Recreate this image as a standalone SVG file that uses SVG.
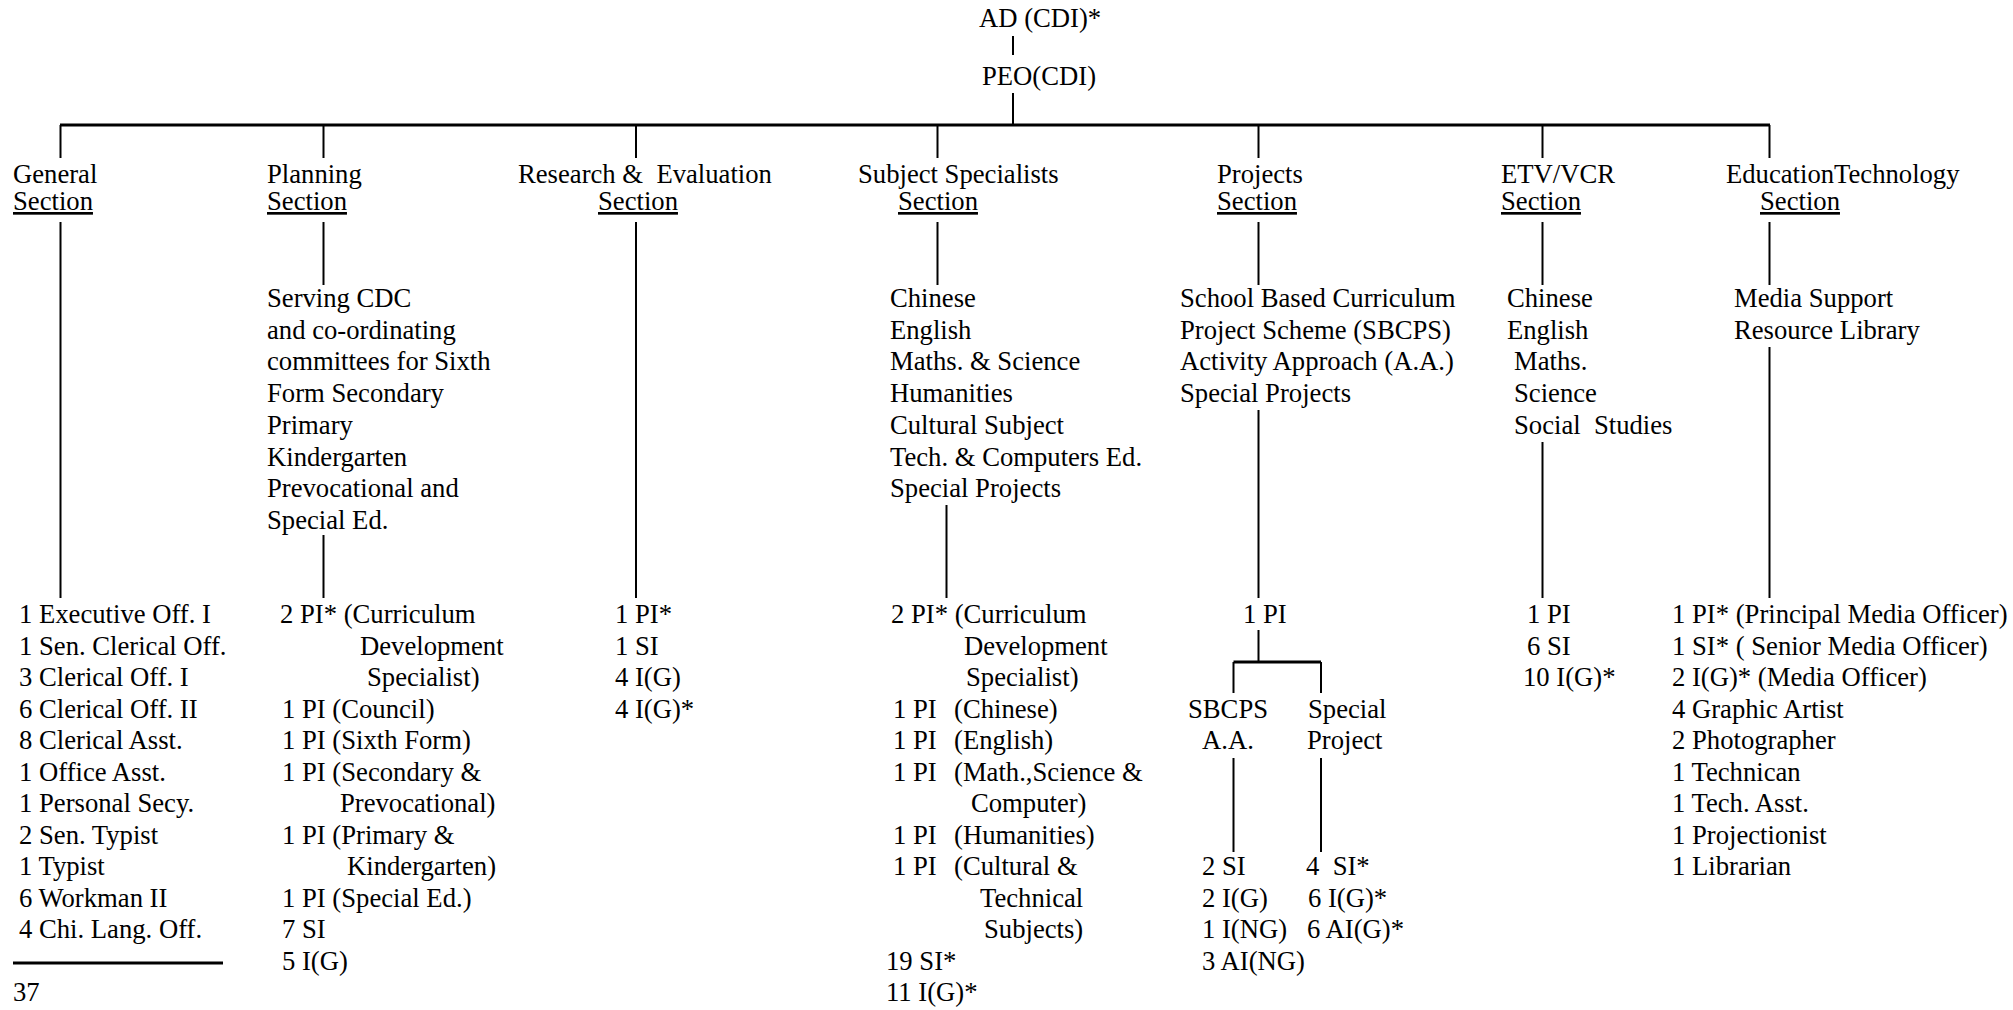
<svg xmlns="http://www.w3.org/2000/svg" width="2013" height="1010" viewBox="0 0 2013 1010">
<style>
text{font-family:"Liberation Serif","Times New Roman",serif;font-size:26.67px;fill:#000;white-space:pre}
.u{text-decoration:underline}
.c line{stroke:#000;stroke-width:2;fill:none}
.c .t{stroke-width:3}
</style>
<rect width="2013" height="1010" fill="#fff"/>
<g id="connectors" class="c">
<line x1="1013" y1="36" x2="1013" y2="55"/>
<line x1="1013" y1="93" x2="1013" y2="125"/>
<line class="t" x1="60" y1="125" x2="1770" y2="125"/>
<line x1="60.5" y1="125" x2="60.5" y2="158"/>
<line x1="323.5" y1="125" x2="323.5" y2="158"/>
<line x1="636" y1="125" x2="636" y2="158"/>
<line x1="937.5" y1="125" x2="937.5" y2="158"/>
<line x1="1258.5" y1="125" x2="1258.5" y2="158"/>
<line x1="1542.5" y1="125" x2="1542.5" y2="158"/>
<line x1="1769.5" y1="125" x2="1769.5" y2="158"/>
<line x1="60.5" y1="222" x2="60.5" y2="598"/>
<line x1="323.5" y1="222" x2="323.5" y2="285"/>
<line x1="323.5" y1="535" x2="323.5" y2="598"/>
<line x1="636" y1="222" x2="636" y2="598"/>
<line x1="937.5" y1="222" x2="937.5" y2="285"/>
<line x1="946.5" y1="505" x2="946.5" y2="598"/>
<line x1="1258.5" y1="222" x2="1258.5" y2="285"/>
<line x1="1258.5" y1="410" x2="1258.5" y2="598"/>
<line x1="1542.5" y1="222" x2="1542.5" y2="285"/>
<line x1="1542.5" y1="442" x2="1542.5" y2="598"/>
<line x1="1769.5" y1="222" x2="1769.5" y2="285"/>
<line x1="1769.5" y1="347" x2="1769.5" y2="598"/>
<line x1="1258.5" y1="630" x2="1258.5" y2="662"/>
<line class="t" x1="1233.5" y1="662" x2="1321" y2="662"/>
<line x1="1233.5" y1="662" x2="1233.5" y2="693"/>
<line x1="1321" y1="662" x2="1321" y2="693"/>
<line x1="1233.5" y1="758" x2="1233.5" y2="852"/>
<line x1="1321" y1="758" x2="1321" y2="852"/>
<line class="t" x1="13" y1="963" x2="223" y2="963"/>
</g>
<g id="ad"><text x="979" y="27">AD (CDI)*</text></g>
<g id="peo"><text x="982" y="85">PEO(CDI)</text></g>
<g id="general-section">
<text x="13" y="183">General</text>
<text class="u" x="13" y="210">Section</text>
</g>
<g id="planning-section">
<text x="267" y="183">Planning</text>
<text class="u" x="267" y="210">Section</text>
</g>
<g id="research-section">
<text x="518" y="183">Research &amp;  Evaluation</text>
<text class="u" x="598" y="210">Section</text>
</g>
<g id="subject-section">
<text x="858" y="183">Subject Specialists</text>
<text class="u" x="898" y="210">Section</text>
</g>
<g id="projects-section">
<text x="1217" y="183">Projects</text>
<text class="u" x="1217" y="210">Section</text>
</g>
<g id="etv-section">
<text x="1501" y="183">ETV/VCR</text>
<text class="u" x="1501" y="210">Section</text>
</g>
<g id="edtech-section">
<text x="1726" y="183">EducationTechnology</text>
<text class="u" x="1760" y="210">Section</text>
</g>
<g id="planning-scope">
<text x="267" y="307">Serving CDC</text>
<text x="267" y="338.7">and co-ordinating</text>
<text x="267" y="370.4">committees for Sixth</text>
<text x="267" y="402.1">Form Secondary</text>
<text x="267" y="433.8">Primary</text>
<text x="267" y="465.5">Kindergarten</text>
<text x="267" y="497.2">Prevocational and</text>
<text x="267" y="528.9">Special Ed.</text>
</g>
<g id="subject-scope">
<text x="890" y="307">Chinese</text>
<text x="890" y="338.7">English</text>
<text x="890" y="370.4">Maths. &amp; Science</text>
<text x="890" y="402.1">Humanities</text>
<text x="890" y="433.8">Cultural Subject</text>
<text x="890" y="465.5">Tech. &amp; Computers Ed.</text>
<text x="890" y="497.2">Special Projects</text>
</g>
<g id="projects-scope">
<text x="1180" y="307">School Based Curriculum</text>
<text x="1180" y="338.7">Project Scheme (SBCPS)</text>
<text x="1180" y="370.4">Activity Approach (A.A.)</text>
<text x="1180" y="402.1">Special Projects</text>
</g>
<g id="etv-scope">
<text x="1507" y="307">Chinese</text>
<text x="1507" y="338.7">English</text>
<text x="1514" y="370.4">Maths.</text>
<text x="1514" y="402.1">Science</text>
<text x="1514" y="433.8">Social  Studies</text>
</g>
<g id="edtech-scope">
<text x="1734" y="307">Media Support</text>
<text x="1734" y="338.7">Resource Library</text>
</g>
<g id="general-staff">
<text x="19" y="623">1 Executive Off. I</text>
<text x="19" y="654.5">1 Sen. Clerical Off.</text>
<text x="19" y="686">3 Clerical Off. I</text>
<text x="19" y="717.5">6 Clerical Off. II</text>
<text x="19" y="749">8 Clerical Asst.</text>
<text x="19" y="780.5">1 Office Asst.</text>
<text x="19" y="812">1 Personal Secy.</text>
<text x="19" y="843.5">2 Sen. Typist</text>
<text x="19" y="875">1 Typist</text>
<text x="19" y="906.5">6 Workman II</text>
<text x="19" y="938">4 Chi. Lang. Off.</text>
<text x="13" y="1001">37</text>
</g>
<g id="planning-staff">
<text x="280" y="623">2 PI* (Curriculum</text>
<text x="360" y="654.5">Development</text>
<text x="367" y="686">Specialist)</text>
<text x="282" y="717.5">1 PI (Council)</text>
<text x="282" y="749">1 PI (Sixth Form)</text>
<text x="282" y="780.5">1 PI (Secondary &amp;</text>
<text x="340" y="812">Prevocational)</text>
<text x="282" y="843.5">1 PI (Primary &amp;</text>
<text x="347" y="875">Kindergarten)</text>
<text x="282" y="906.5">1 PI (Special Ed.)</text>
<text x="282" y="938">7 SI</text>
<text x="282" y="969.5">5 I(G)</text>
</g>
<g id="research-staff">
<text x="615" y="623">1 PI*</text>
<text x="615" y="654.5">1 SI</text>
<text x="615" y="686">4 I(G)</text>
<text x="615" y="717.5">4 I(G)*</text>
</g>
<g id="subject-staff">
<text x="891" y="623">2 PI* (Curriculum</text>
<text x="964" y="654.5">Development</text>
<text x="966" y="686">Specialist)</text>
<text x="893" y="717.5">1 PI<tspan x="954">(Chinese)</tspan></text>
<text x="893" y="749">1 PI<tspan x="954">(English)</tspan></text>
<text x="893" y="780.5">1 PI<tspan x="954">(Math.,Science &amp;</tspan></text>
<text x="971" y="812">Computer)</text>
<text x="893" y="843.5">1 PI<tspan x="954">(Humanities)</tspan></text>
<text x="893" y="875">1 PI<tspan x="954">(Cultural &amp;</tspan></text>
<text x="980" y="906.5">Technical</text>
<text x="984" y="938">Subjects)</text>
<text x="886" y="969.5">19 SI*</text>
<text x="886" y="1001">11 I(G)*</text>
</g>
<g id="projects-staff"><text x="1243" y="623">1 PI</text></g>
<g id="sbcps">
<text x="1188" y="717.5">SBCPS</text>
<text x="1202" y="749">A.A.</text>
</g>
<g id="special-project">
<text x="1308" y="717.5">Special</text>
<text x="1307" y="749">Project</text>
</g>
<g id="sbcps-staff">
<text x="1202" y="875">2 SI</text>
<text x="1202" y="906.5">2 I(G)</text>
<text x="1202" y="938">1 I(NG)</text>
<text x="1202" y="969.5">3 AI(NG)</text>
</g>
<g id="special-project-staff">
<text x="1306" y="875">4  SI*</text>
<text x="1308" y="906.5">6 I(G)*</text>
<text x="1307" y="938">6 AI(G)*</text>
</g>
<g id="etv-staff">
<text x="1527" y="623">1 PI</text>
<text x="1527" y="654.5">6 SI</text>
<text x="1523" y="686">10 I(G)*</text>
</g>
<g id="edtech-staff">
<text x="1672" y="623">1 PI* (Principal Media Officer)</text>
<text x="1672" y="654.5">1 SI* ( Senior Media Officer)</text>
<text x="1672" y="686">2 I(G)* (Media Officer)</text>
<text x="1672" y="717.5">4 Graphic Artist</text>
<text x="1672" y="749">2 Photographer</text>
<text x="1672" y="780.5">1 Technican</text>
<text x="1672" y="812">1 Tech. Asst.</text>
<text x="1672" y="843.5">1 Projectionist</text>
<text x="1672" y="875">1 Librarian</text>
</g>
</svg>
